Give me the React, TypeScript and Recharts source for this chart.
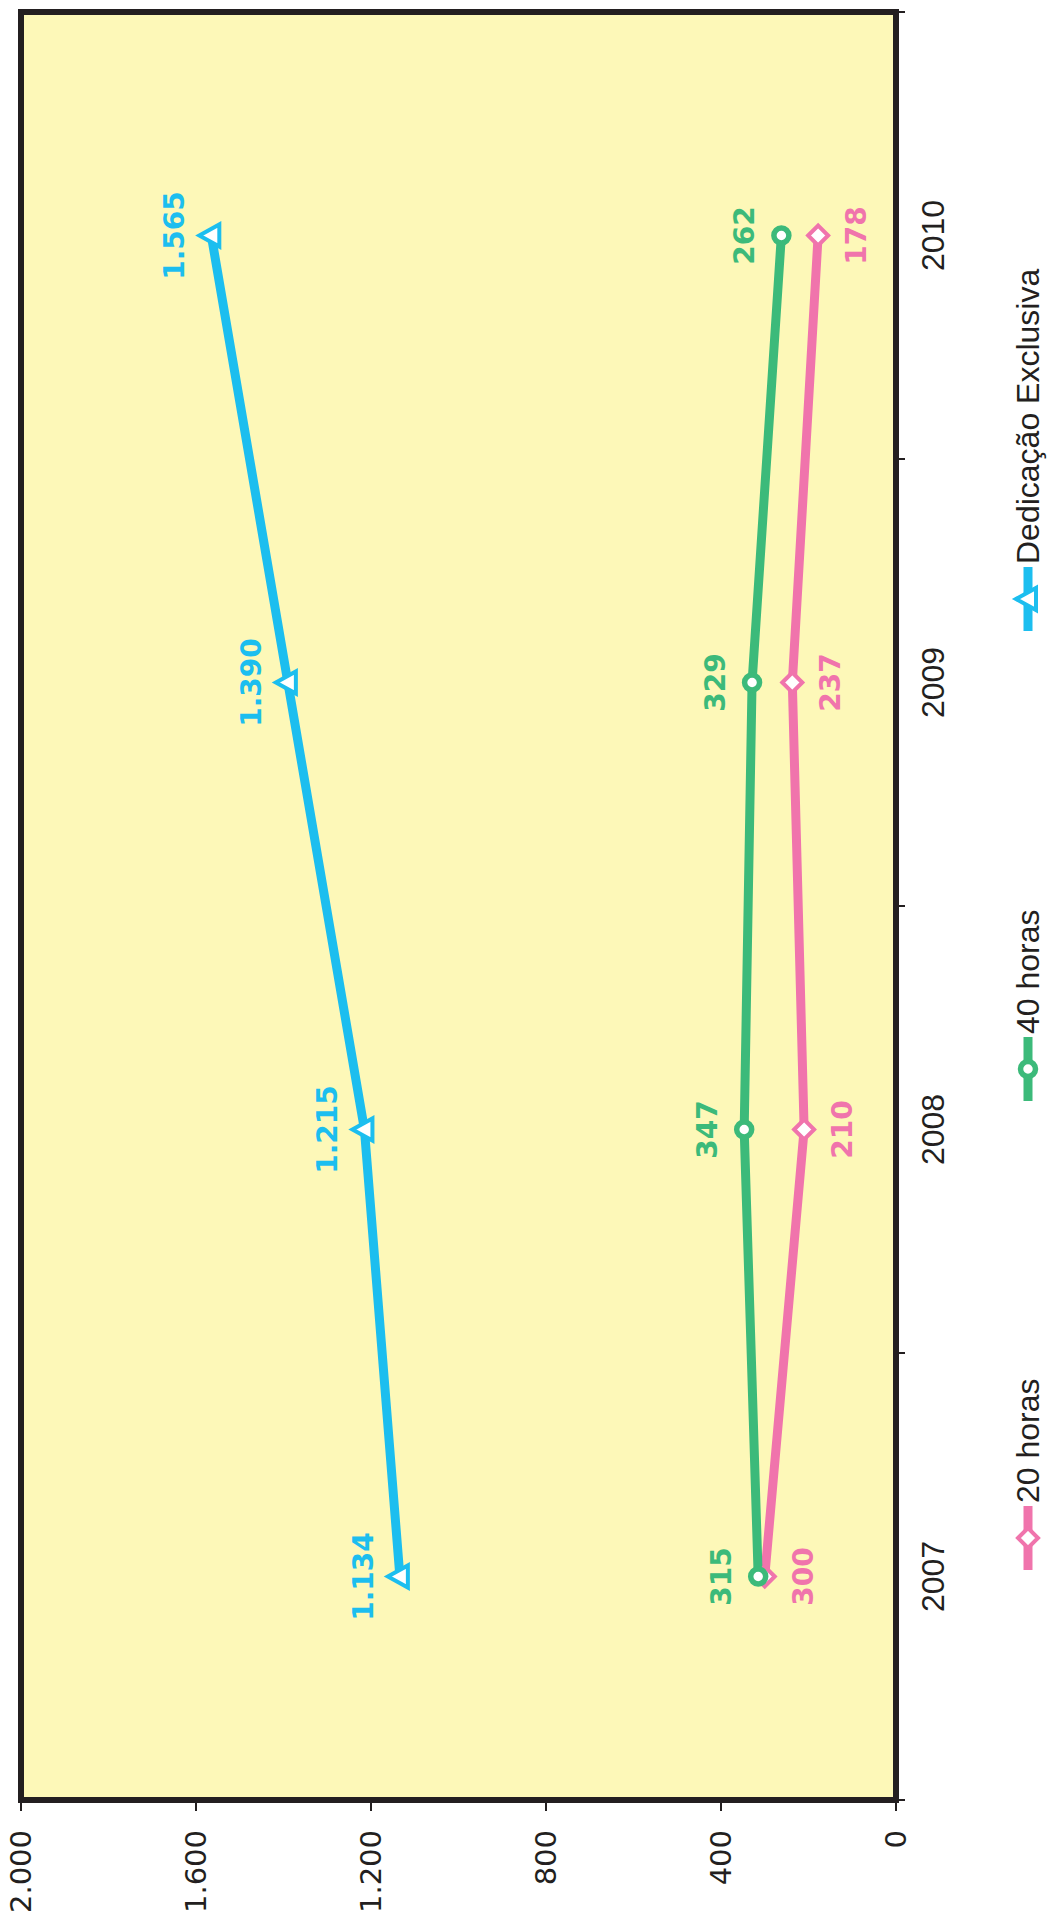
import { LineChart, Line, XAxis, YAxis, ReferenceArea, LabelList, Legend } from "recharts";

// values
const years = ["2007", "2008", "2009", "2010"];
const horas20 = [300, 210, 237, 178];
const horas40 = [315, 347, 329, 262];
const dedicacao = [1134, 1215, 1390, 1565];
const valueTicks = [0, 400, 800, 1200, 1600, 2000];
const seriesNames = ["20 horas", "40 horas", "Dedicação Exclusiva"];

const data = years.map((year, i) => ({
  year,
  h20: horas20[i],
  h40: horas40[i],
  de: dedicacao[i],
}));

const PINK = "#F074AC";
const GREEN = "#3CBA7A";
const CYAN = "#1CBEEF";
const INK = "#231F20";
const PAPER = "#FDF8B8";

// the chart is drawn landscape, then turned a quarter left
const W = 1917;
const H = 1047;
const AXIS_W = 117;
const MARGIN = { top: 21, right: 12, left: 0, bottom: 91 };
const HALF_BAND = (W - AXIS_W - MARGIN.right) / years.length / 2;
const LINE_W = 9;

const fmt = (v: any) => String(v).replace(/\B(?=(\d{3})+(?!\d))/g, ".");

const labelFont = { fontFamily: "'DejaVu Sans', Verdana, sans-serif", fontWeight: 700, fontSize: 28 };

function Marker({ shape, cx, cy, color }: { shape: string; cx: number; cy: number; color: string }) {
  if (shape === "triangle") {
    return (
      <polygon
        points={`${cx},${cy - 12} ${cx - 11},${cy + 8} ${cx + 11},${cy + 8}`}
        fill="#fff"
        stroke={color}
        strokeWidth={4}
      />
    );
  }
  if (shape === "diamond") {
    return (
      <polygon
        points={`${cx},${cy - 10} ${cx + 10},${cy} ${cx},${cy + 10} ${cx - 10},${cy}`}
        fill="#fff"
        stroke={color}
        strokeWidth={4}
      />
    );
  }
  return <circle cx={cx} cy={cy} r={7.5} fill="#fff" stroke={color} strokeWidth={5.5} />;
}

const dotOf = (shape: string, color: string) => (p: any) =>
  p.cx == null ? <g key={p.index} /> : <Marker key={p.index} shape={shape} cx={p.cx} cy={p.cy} color={color} />;

function YearTick(props: any) {
  const { x, y, payload, index } = props;
  const last = index === years.length - 1;
  return (
    <g>
      <line x1={x - HALF_BAND} x2={x - HALF_BAND} y1={y} y2={y + 9} stroke={INK} strokeWidth={2} />
      {last && <line x1={x + HALF_BAND} x2={x + HALF_BAND} y1={y} y2={y + 9} stroke={INK} strokeWidth={2} />}
      <text
        x={x}
        y={y + 48}
        textAnchor="middle"
        fontFamily="'Liberation Sans', Arial, sans-serif"
        fontSize={32}
        fill={INK}
      >
        {payload.value}
      </text>
    </g>
  );
}

const legendShapes = [
  { shape: "diamond", color: PINK, at: 0 },
  { shape: "circle", color: GREEN, at: 469 },
  { shape: "triangle", color: CYAN, at: 939 },
];

function LegendBox() {
  return (
    <div style={{ position: "relative", width: 1300, height: 36 }}>
      {legendShapes.map((item, i) => (
        <div
          key={seriesNames[i]}
          style={{ position: "absolute", left: item.at, top: 0, display: "flex", alignItems: "center" }}
        >
          <svg width={64} height={36}>
            <line x1={0} x2={64} y1={18} y2={18} stroke={item.color} strokeWidth={LINE_W} />
            <Marker shape={item.shape} cx={32} cy={18} color={item.color} />
          </svg>
          <span
            style={{
              marginLeft: 3,
              fontFamily: "'Liberation Sans', Arial, sans-serif",
              fontSize: 32,
              lineHeight: "36px",
              color: INK,
              whiteSpace: "nowrap",
            }}
          >
            {seriesNames[i]}
          </span>
        </div>
      ))}
    </div>
  );
}

export default function App() {
  return (
    <div style={{ position: "absolute", left: 0, top: 0, width: H, height: W, overflow: "hidden", background: "#fff" }}>
      <div
        style={{
          position: "absolute",
          left: 0,
          top: 0,
          width: W,
          height: H,
          transformOrigin: "0 0",
          transform: `translateY(${W}px) rotate(-90deg)`,
        }}
      >
        <LineChart width={W} height={H} data={data} margin={MARGIN}>
          <ReferenceArea
            x1="2007"
            x2="2010"
            y1={0}
            y2={2000}
            fill={PAPER}
            fillOpacity={1}
            stroke={INK}
            strokeWidth={6}
          />
          <XAxis
            dataKey="year"
            scale="band"
            interval={0}
            height={60}
            axisLine={false}
            tickLine={false}
            tickSize={0}
            tickMargin={0}
            tick={<YearTick />}
          />
          <YAxis
            type="number"
            domain={[0, 2000]}
            ticks={valueTicks}
            tickFormatter={fmt}
            width={AXIS_W}
            axisLine={false}
            tickSize={11}
            tickMargin={19}
            tickLine={{ stroke: INK, strokeWidth: 2 }}
            tick={{ fontFamily: "'DejaVu Sans', Verdana, sans-serif", fontSize: 29, fill: INK }}
          />
          <Legend
            layout="horizontal"
            verticalAlign="middle"
            align="center"
            wrapperStyle={{ top: 1010, left: 347, width: "auto", height: "auto" }}
            content={() => <LegendBox />}
          />
          <Line
            dataKey="h20"
            name={seriesNames[0]}
            stroke={PINK}
            strokeWidth={LINE_W}
            dot={dotOf("diamond", PINK)}
            activeDot={false}
            isAnimationActive={false}
          >
            <LabelList dataKey="h20" position="bottom" offset={28} formatter={fmt} fill={PINK} style={labelFont} />
          </Line>
          <Line
            dataKey="h40"
            name={seriesNames[1]}
            stroke={GREEN}
            strokeWidth={LINE_W}
            dot={dotOf("circle", GREEN)}
            activeDot={false}
            isAnimationActive={false}
          >
            <LabelList dataKey="h40" position="top" offset={27} formatter={fmt} fill={GREEN} style={labelFont} />
          </Line>
          <Line
            dataKey="de"
            name={seriesNames[2]}
            stroke={CYAN}
            strokeWidth={LINE_W}
            dot={dotOf("triangle", CYAN)}
            activeDot={false}
            isAnimationActive={false}
          >
            <LabelList dataKey="de" position="top" offset={27} formatter={fmt} fill={CYAN} style={labelFont} />
          </Line>
        </LineChart>
      </div>
    </div>
  );
}
